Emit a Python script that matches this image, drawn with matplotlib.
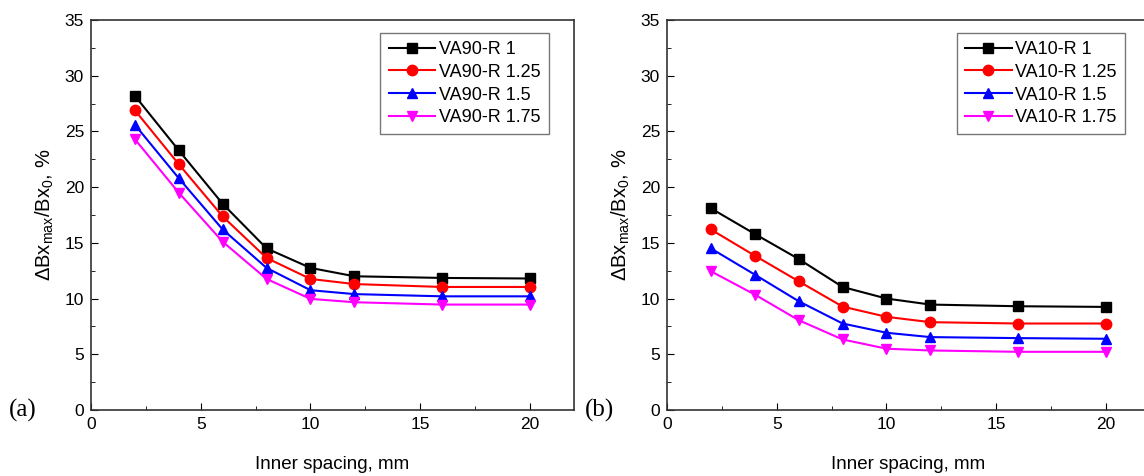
import matplotlib
matplotlib.use("Agg")
import matplotlib.pyplot as plt
from matplotlib.ticker import MultipleLocator

plt.rcParams['font.family'] = ['Liberation Sans', 'DejaVu Sans']
plt.rcParams['mathtext.fontset'] = 'custom'
plt.rcParams['mathtext.rm'] = 'Liberation Sans'
plt.rcParams['mathtext.it'] = 'Liberation Sans'

spacing = [2, 4, 6, 8, 10, 12, 16, 20]

va90_r1 = [28.2, 23.3, 18.5, 14.5, 12.75, 12.0, 11.85, 11.8]
va90_r125 = [26.9, 22.06, 17.37, 13.64, 11.76, 11.3, 11.04, 11.04]
va90_r15 = [25.6, 20.8, 16.2, 12.75, 10.75, 10.4, 10.2, 10.2]
va90_r175 = [24.3, 19.5, 15.1, 11.76, 9.97, 9.67, 9.46, 9.46]

va10_r1 = [18.1, 15.8, 13.55, 11.04, 10.0, 9.46, 9.31, 9.25]
va10_r125 = [16.2, 13.85, 11.55, 9.28, 8.36, 7.88, 7.76, 7.76]
va10_r15 = [14.5, 12.15, 9.76, 7.76, 6.93, 6.54, 6.45, 6.39]
va10_r175 = [12.45, 10.36, 8.06, 6.33, 5.5, 5.34, 5.22, 5.22]

radii = ['1', '1.25', '1.5', '1.75']
styles = [('black', 's'), ('red', 'o'), ('blue', '^'), ('magenta', 'v')]

fig = plt.figure(figsize=(11.44, 4.76), dpi=100)
ax_a = fig.add_axes([0.0795, 0.1387, 0.4222, 0.8193])
ax_b = fig.add_axes([0.5830, 0.1387, 0.4222, 0.8193])

panels = [
    (ax_a, 'VA90', [va90_r1, va90_r125, va90_r15, va90_r175], '(a)'),
    (ax_b, 'VA10', [va10_r1, va10_r125, va10_r15, va10_r175], '(b)'),
]

for ax, name, series, tag in panels:
    for vals, r, (c, m) in zip(series, radii, styles):
        ax.plot(spacing, vals, color=c, marker=m, ms=7.5, lw=1.5,
                label=f'{name}-R {r}')
    ax.set_xlim(0, 22)
    ax.set_ylim(0, 35)
    ax.xaxis.set_major_locator(MultipleLocator(5))
    ax.xaxis.set_minor_locator(MultipleLocator(2.5))
    ax.yaxis.set_major_locator(MultipleLocator(5))
    ax.yaxis.set_minor_locator(MultipleLocator(2.5))
    ax.tick_params(which='both', direction='in', labelsize=12.5, pad=5)
    ax.tick_params(which='major', length=5)
    ax.tick_params(which='minor', length=3)
    for s in ax.spines.values():
        s.set_linewidth(1.2)
        s.set_color('#333333')
    ax.set_xlabel('Inner spacing, mm', fontsize=13.5, labelpad=17)
    ax.set_ylabel(r'$\Delta$Bx$_{\rm max}$/Bx$_{\rm 0}$, %', fontsize=14.5,
                  labelpad=6)
    leg = ax.legend(loc='upper right', bbox_to_anchor=(0.948, 0.967),
                    borderaxespad=0, fontsize=13, fancybox=False,
                    handlelength=2.6, handletextpad=0.2, labelspacing=0.32,
                    borderpad=0.45, edgecolor='#555555')
    leg.get_frame().set_linewidth(1.0)
    ax.text(-0.17, 0.0, tag, transform=ax.transAxes, fontsize=18,
            family='Liberation Serif', va='center', ha='left')

fig.savefig('out.png', dpi=100)
